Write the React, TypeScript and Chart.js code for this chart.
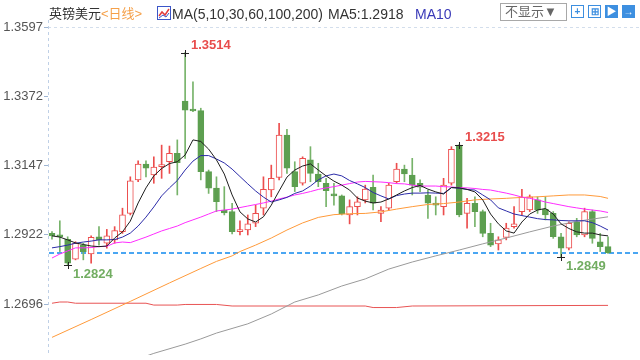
import React, { useEffect, useRef } from "react";
import { Chart, registerables } from "chart.js";
Chart.register(...registerables);

// ---- data (daily GBP/USD candles) ----
const opens = [
  1.2926, 1.2921, 1.2907, 1.2842, 1.2888, 1.2859, 1.2915, 1.2894, 1.2905, 1.2932,
  1.2991, 1.3100, 1.3151, 1.3116, 1.3143, 1.3159, 1.3186, 1.3356, 1.3329, 1.3325,
  1.3127, 1.3073, 1.3002, 1.2997, 1.2932, 1.2937, 1.2959, 1.3008, 1.3067, 1.3108,
  1.3246, 1.3127, 1.3089, 1.3165, 1.3119, 1.3089, 1.3051, 1.3048, 1.2986, 1.3013,
  1.3035, 1.3076, 1.2991, 1.3008, 1.3094, 1.3135, 1.3116, 1.3089, 1.3051, 1.3024,
  1.3013, 1.3089, 1.3213, 1.2991, 1.3024, 1.2997, 1.2926, 1.2892, 1.2913, 1.2948,
  1.2997, 1.3002, 1.3035, 1.3004, 1.2991, 1.2915, 1.2878, 1.2964, 1.2921, 1.2997,
  1.2899, 1.2883,
];
const closes = [
  1.2918, 1.2915, 1.2829, 1.2894, 1.2867, 1.2913, 1.2905, 1.2918, 1.2935, 1.2986,
  1.3097, 1.3151, 1.3138, 1.3142, 1.3148, 1.3186, 1.3156, 1.3327, 1.3324, 1.3127,
  1.3073, 1.3029, 1.2993, 1.2932, 1.2937, 1.2957, 1.2991, 1.3069, 1.3105, 1.3246,
  1.3138, 1.3078, 1.3170, 1.3121, 1.3094, 1.3065, 1.3048, 1.2989, 1.3013, 1.3029,
  1.3070, 1.3024, 1.3002, 1.3083, 1.3135, 1.3119, 1.3083, 1.3076, 1.3024, 1.3018,
  1.3083, 1.3199, 1.2986, 1.3024, 1.2997, 1.2926, 1.2888, 1.2905, 1.2943, 1.2957,
  1.3043, 1.3045, 1.3002, 1.2986, 1.2915, 1.2878, 1.2959, 1.2921, 1.2997, 1.2910,
  1.2883, 1.2863,
];
const highs = [
  1.2932, 1.2967, 1.2915, 1.2899, 1.2894, 1.2918, 1.2948, 1.2939, 1.2948, 1.3008,
  1.3110, 1.3162, 1.3162, 1.3175, 1.3213, 1.3210, 1.3230, 1.3514, 1.3419, 1.3333,
  1.3132, 1.3110, 1.3078, 1.3024, 1.2967, 1.2986, 1.3018, 1.3110, 1.3148, 1.3284,
  1.3264, 1.3159, 1.3175, 1.3208, 1.3154, 1.3105, 1.3089, 1.3051, 1.3035, 1.3045,
  1.3083, 1.3116, 1.3013, 1.3089, 1.3154, 1.3148, 1.3170, 1.3100, 1.3067, 1.3045,
  1.3105, 1.3208, 1.3215, 1.3040, 1.3045, 1.3002, 1.2959, 1.2915, 1.2959, 1.3013,
  1.3069, 1.3051, 1.3045, 1.3045, 1.2997, 1.2926, 1.2964, 1.2975, 1.3008, 1.3002,
  1.2926, 1.2915,
];
const lows = [
  1.2907, 1.2867, 1.2824, 1.2840, 1.2840, 1.2829, 1.2888, 1.2878, 1.2894, 1.2926,
  1.2986, 1.3094, 1.3110, 1.3089, 1.3105, 1.3121, 1.3051, 1.3170, 1.3322, 1.3100,
  1.3056, 1.2997, 1.2986, 1.2924, 1.2921, 1.2921, 1.2948, 1.2986, 1.3045, 1.3100,
  1.3121, 1.3062, 1.3083, 1.3094, 1.3078, 1.3013, 1.3018, 1.2986, 1.2957, 1.2986,
  1.3025, 1.3002, 1.2964, 1.3002, 1.3089, 1.3094, 1.3051, 1.3062, 1.2975, 1.2986,
  1.2986, 1.3083, 1.2980, 1.2943, 1.2948, 1.2915, 1.2883, 1.2872, 1.2905, 1.2943,
  1.2986, 1.2997, 1.2991, 1.2970, 1.2910, 1.2849, 1.2872, 1.2915, 1.2915, 1.2894,
  1.2867, 1.2861,
];

const ma5 = [
  1.2918, 1.2914, 1.2905, 1.2895, 1.2890, 1.2885, 1.2883, 1.2885, 1.2911, 1.2931,
  1.2966, 1.3025, 1.3074, 1.3113, 1.3137, 1.3153, 1.3159, 1.3181, 1.3230, 1.3225,
  1.3200, 1.3165, 1.3119, 1.3051, 1.2996, 1.2973, 1.2963, 1.2980, 1.3018, 1.3064,
  1.3109, 1.3132, 1.3145, 1.3152, 1.3132, 1.3113, 1.3096, 1.3083, 1.3067, 1.3041,
  1.3031, 1.3025, 1.3028, 1.3038, 1.3051, 1.3064, 1.3075, 1.3082, 1.3070, 1.3061,
  1.3054, 1.3075, 1.3074, 1.3069, 1.3061, 1.3035, 1.2989, 1.2957, 1.2934, 1.2927,
  1.2963, 1.2989, 1.3002, 1.3007, 1.2989, 1.2957, 1.2942, 1.2931, 1.2927, 1.2927,
  1.2921, 1.2918,
];
const ma10 = [
  1.2879, 1.2883, 1.2888, 1.2894, 1.2898, 1.2901, 1.2905, 1.2905, 1.2906, 1.2914,
  1.2927, 1.2950, 1.2979, 1.3012, 1.3048, 1.3074, 1.3098, 1.3132, 1.3161, 1.3179,
  1.3179, 1.3168, 1.3155, 1.3135, 1.3111, 1.3087, 1.3064, 1.3044, 1.3028, 1.3035,
  1.3043, 1.3056, 1.3064, 1.3080, 1.3100, 1.3113, 1.3119, 1.3113, 1.3098, 1.3087,
  1.3075, 1.3059, 1.3048, 1.3038, 1.3049, 1.3054, 1.3057, 1.3057, 1.3058, 1.3057,
  1.3056, 1.3075, 1.3073, 1.3069, 1.3067, 1.3051, 1.3035, 1.3009, 1.2999, 1.2989,
  1.2984, 1.2979, 1.2974, 1.2971, 1.2970, 1.2968, 1.2967, 1.2967, 1.2967, 1.2961,
  1.2950, 1.2937,
];
const ma30 = [
  1.2846, 1.2859, 1.2869, 1.2879, 1.2879, 1.2880, 1.2883, 1.2884, 1.2895, 1.2898,
  1.2896, 1.2905, 1.2914, 1.2924, 1.2934, 1.2942, 1.2950, 1.2961, 1.2970, 1.2979,
  1.2989, 1.2999, 1.3002, 1.3005, 1.3010, 1.3015, 1.3020, 1.3025, 1.3031, 1.3038,
  1.3044, 1.3051, 1.3056, 1.3062, 1.3069, 1.3074, 1.3078, 1.3083, 1.3088, 1.3093,
  1.3095, 1.3094, 1.3093, 1.3091, 1.3088, 1.3087, 1.3083, 1.3080, 1.3080, 1.3080,
  1.3078, 1.3077, 1.3075, 1.3074, 1.3072, 1.3069, 1.3067, 1.3062, 1.3057, 1.3051,
  1.3044, 1.3040, 1.3035, 1.3028, 1.3023, 1.3018, 1.3013, 1.3009, 1.3005, 1.3002,
  1.2999, 1.2994,
];
const ma60Days = [0, 5, 10, 15, 19, 21, 23, 24, 26, 28, 30, 32, 34, 36, 38, 40, 42, 44, 46, 48, 50, 52, 54, 56, 58, 60, 62, 64, 66, 68, 70, 71];
const ma60 = [1.2588, 1.2646, 1.2705, 1.2765, 1.2812, 1.2835, 1.2853, 1.2867, 1.2888, 1.2911, 1.2937, 1.2960, 1.2978, 1.2987, 1.2990, 1.2991, 1.2996, 1.3005, 1.3013, 1.3020, 1.3023, 1.3028, 1.3035, 1.3038, 1.3040, 1.3043, 1.3045, 1.3048, 1.3051, 1.3051, 1.3046, 1.3040];
const ma100Days = [12, 13, 17, 19, 21, 25, 28, 31, 34, 37, 40, 43, 46, 49, 52, 55, 58, 61, 64, 67, 71];
const ma100 = [1.2527, 1.2536, 1.2566, 1.2583, 1.2602, 1.2632, 1.2664, 1.2703, 1.2726, 1.2755, 1.2778, 1.2810, 1.2833, 1.2853, 1.2872, 1.2892, 1.2911, 1.2931, 1.2950, 1.2965, 1.2980];
const ma200Days = [0, 1, 2, 3, 12, 13, 16, 17, 21, 23, 40, 41, 44, 46, 71];
const ma200 = [1.2699, 1.2703, 1.2703, 1.2699, 1.2699, 1.2693, 1.2693, 1.2695, 1.2695, 1.2690, 1.2690, 1.2685, 1.2685, 1.2690, 1.2692];

const yTicks = [1.2696, 1.2922, 1.3147, 1.3372, 1.3597];
const lastPrice = 1.2863;
const extremes = [
  { day: 17, value: 1.3514, kind: "high" },
  { day: 52, value: 1.3215, kind: "high" },
  { day: 2, value: 1.2824, kind: "low" },
  { day: 65, value: 1.2849, kind: "low" },
];

// ---- style ----
const FONT = '"Liberation Sans", Arial, "Noto Sans CJK SC", sans-serif';
const UP = "#ec4d4d";
const DOWN = "#5d9f50";
const DOWN_WICK = "#77b36a";
const Y_MIN = 1.25307;
const Y_MAX = 1.36198;
const X_MIN = -0.51;
const X_MAX = 75.08;

const pts = (days: number[], vals: number[]) => days.map((d, k) => ({ x: d, y: vals[k] }));
const seq = (vals: number[]) => vals.map((v, i) => ({ x: i, y: v }));

const decor = {
  id: "decor",
  beforeDatasetsDraw(chart: any) {
    const { ctx, chartArea, scales } = chart;
    const y = scales.y;
    ctx.save();
    // axis line (dashed)
    ctx.strokeStyle = "#bfd0e6";
    ctx.lineWidth = 1;
    ctx.setLineDash([3, 3]);
    ctx.beginPath();
    ctx.moveTo(Math.round(chartArea.left) + 0.5, chartArea.top);
    ctx.lineTo(Math.round(chartArea.left) + 0.5, chartArea.bottom);
    ctx.stroke();
    // last price line
    const py = Math.round(y.getPixelForValue(lastPrice));
    ctx.strokeStyle = "#4aa6f2";
    ctx.lineWidth = 2;
    ctx.setLineDash([5, 3]);
    ctx.beginPath();
    ctx.moveTo(chartArea.left + 1, py);
    ctx.lineTo(chartArea.right, py);
    ctx.stroke();
    ctx.restore();
  },
  afterDatasetsDraw(chart: any) {
    const { ctx, scales } = chart;
    const x = scales.x;
    const y = scales.y;
    ctx.save();
    ctx.font = "bold 13px " + FONT;
    ctx.textBaseline = "middle";
    ctx.textAlign = "left";
    for (const e of extremes) {
      const px = Math.round(x.getPixelForValue(e.day));
      const py = Math.round(y.getPixelForValue(e.value));
      ctx.strokeStyle = "#222";
      ctx.lineWidth = 1;
      ctx.beginPath();
      ctx.moveTo(px - 4, py + 0.5);
      ctx.lineTo(px + 4, py + 0.5);
      ctx.moveTo(px + 0.5, py - 3);
      ctx.lineTo(px + 0.5, py + 4);
      ctx.stroke();
      if (e.kind === "high") {
        ctx.fillStyle = "#e84c4c";
        ctx.fillText(e.value.toFixed(4), px + 6, py - 8);
      } else {
        ctx.fillStyle = "#72ad62";
        ctx.fillText(e.value.toFixed(4), px + 5, py + 9);
      }
    }
    ctx.restore();
  },
};

function Header() {
  const base: React.CSSProperties = {
    position: "absolute",
    top: 6,
    fontSize: 14,
    lineHeight: "16px",
    fontFamily: FONT,
    whiteSpace: "nowrap",
    color: "#333",
  };
  const cjk: React.CSSProperties = { ...base, fontSize: 13 };
  const iconBox = (left: number, filled: boolean, glyph: string) => (
    <div
      style={{
        position: "absolute",
        left,
        top: 5,
        width: 13,
        height: 13,
        boxSizing: "border-box",
        border: "1px solid #3d8fe0",
        background: filled ? "#3d8fe0" : "#fff",
        color: filled ? "#fff" : "#3d8fe0",
        fontSize: 10,
        lineHeight: "11px",
        textAlign: "center",
        fontFamily: FONT,
        fontWeight: "bold",
      }}
    >
      {glyph}
    </div>
  );
  return (
    <>
      <span style={{ ...cjk, left: 49 }}>英镑美元</span>
      <span style={{ ...cjk, left: 101, color: "#f5a049" }}>&lt;日线&gt;</span>
      <svg style={{ position: "absolute", left: 157, top: 6 }} width="14" height="14">
        <rect x="0.5" y="0.5" width="13" height="13" fill="#fff" stroke="#3b55c8" />
        <polyline points="2,10 5,6 8,9 12,3" fill="none" stroke="#e23c3c" strokeWidth="1.5" />
        <polyline points="2,12 6,9 9,11 12,7" fill="none" stroke="#3b55c8" strokeWidth="1" />
      </svg>
      <span style={{ ...base, left: 172 }}>MA(5,10,30,60,100,200)</span>
      <span style={{ ...base, left: 328 }}>MA5:1.2918</span>
      <span style={{ ...base, left: 415, color: "#3a3ab8" }}>MA10</span>
      <div
        style={{
          position: "absolute",
          left: 500,
          top: 3,
          width: 67,
          height: 18,
          boxSizing: "border-box",
          border: "1px solid #a8a8a8",
          fontSize: 13,
          lineHeight: "16px",
          fontFamily: FONT,
          color: "#666",
          paddingLeft: 4,
          whiteSpace: "nowrap",
        }}
      >
        不显示▼
      </div>
      {iconBox(571, false, "+")}
      {iconBox(588, false, "⊞")}
      {iconBox(605, true, "▶")}
      {iconBox(622, true, "→")}
    </>
  );
}

export default function App() {
  const ref = useRef<HTMLCanvasElement | null>(null);
  useEffect(() => {
    if (!ref.current) return;
    const up = closes.map((c, i) => c >= opens[i]);
    const chart = new Chart(ref.current, {
      type: "bar",
      data: {
        datasets: [
          { type: "line", label: "MA5", data: seq(ma5), borderColor: "#1e1e1e", borderWidth: 1, pointRadius: 0, order: 0 },
          { type: "line", label: "MA10", data: seq(ma10), borderColor: "#2b2ba8", borderWidth: 1, pointRadius: 0, order: 0 },
          { type: "line", label: "MA30", data: seq(ma30), borderColor: "#ff2cff", borderWidth: 1, pointRadius: 0, order: 0 },
          { type: "line", label: "MA60", data: pts(ma60Days, ma60), borderColor: "#ff9a3a", borderWidth: 1, pointRadius: 0, order: 0 },
          { type: "line", label: "MA100", data: pts(ma100Days, ma100), borderColor: "#9a9a9a", borderWidth: 1, pointRadius: 0, order: 0 },
          { type: "line", label: "MA200", data: pts(ma200Days, ma200), borderColor: "#e85454", borderWidth: 1, pointRadius: 0, order: 0 },
          {
            type: "bar",
            label: "body",
            data: opens.map((o, i) => ({ x: i, y: [o, closes[i]] })),
            backgroundColor: up.map((u) => (u ? "#ffffff" : DOWN)),
            borderColor: up.map((u) => (u ? UP : DOWN)),
            borderWidth: 1,
            borderSkipped: false,
            barThickness: 6,
            minBarLength: 2,
            grouped: false,
            order: 1,
          },
          {
            type: "bar",
            label: "wick",
            data: opens.map((_, i) => ({ x: i, y: [lows[i], highs[i]] })),
            backgroundColor: up.map((u) => (u ? UP : DOWN_WICK)),
            borderWidth: 0,
            barThickness: 1,
            grouped: false,
            order: 2,
          },
        ] as any,
      },
      options: {
        responsive: false,
        animation: false,
        devicePixelRatio: 1,
        layout: { padding: { top: 20, bottom: 5, left: 0, right: 0 } },
        plugins: { legend: { display: false }, tooltip: { enabled: false } },
        scales: {
          x: { type: "linear", min: X_MIN, max: X_MAX, offset: false, display: false },
          y: {
            type: "linear",
            position: "left",
            min: Y_MIN,
            max: Y_MAX,
            beginAtZero: false,
            afterBuildTicks: (s: any) => {
              s.ticks = yTicks.map((v) => ({ value: v }));
            },
            afterFit: (s: any) => {
              s.width = 48;
              s.paddingTop = 0;
              s.paddingBottom = 0;
            },
            ticks: {
              autoSkip: false,
              padding: 1,
              color: "#555",
              font: { size: 13, family: FONT },
              callback: (v: any) => Number(v).toFixed(4),
            },
            grid: {
              color: (c: any) => (c.tick && Math.abs(c.tick.value - 1.3597) < 1e-6 ? "#d3deec" : "rgba(0,0,0,0)"),
              tickColor: "#9fb6d3",
              tickLength: 4,
              lineWidth: 1,
            },
            border: { display: false, dash: [3, 3] },
          },
        },
      } as any,
      plugins: [decor],
    });
    return () => chart.destroy();
  }, []);
  return (
    <div style={{ position: "fixed", left: 0, top: 0, width: 640, height: 360, background: "#fff", overflow: "hidden" }}>
      <canvas ref={ref} width={640} height={360} style={{ position: "absolute", left: 0, top: 0 }} />
      <Header />
    </div>
  );
}
